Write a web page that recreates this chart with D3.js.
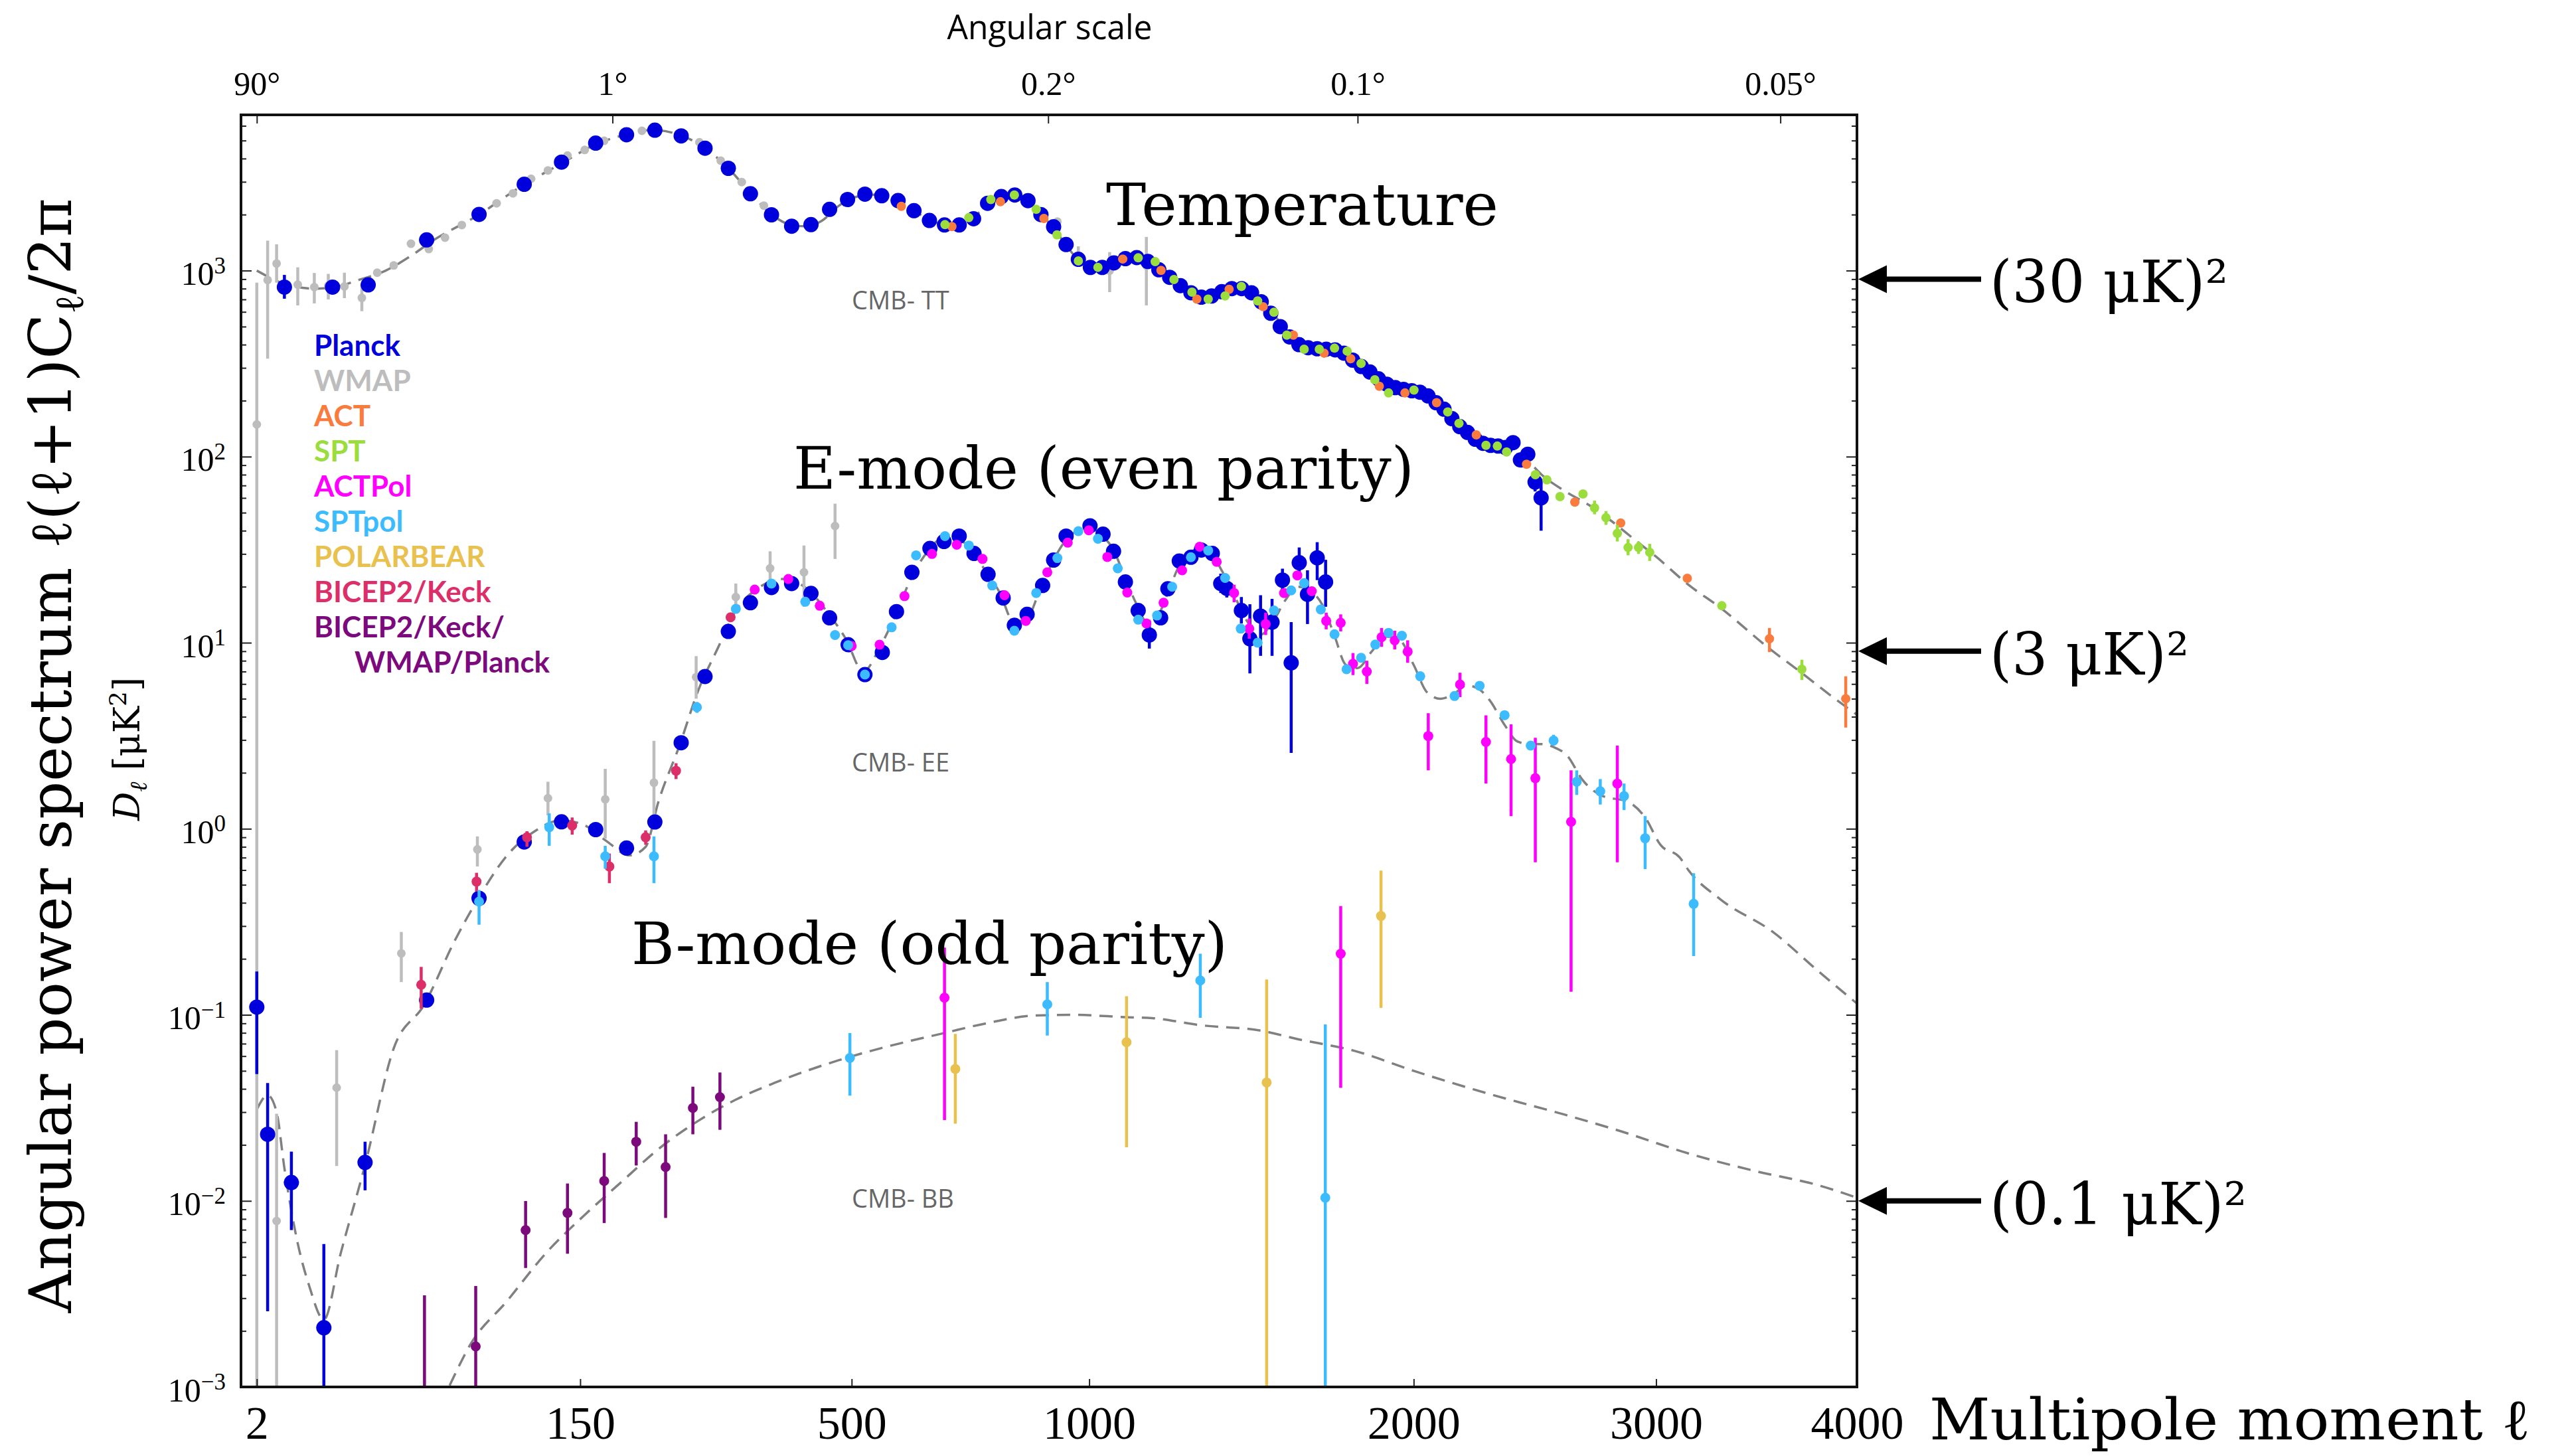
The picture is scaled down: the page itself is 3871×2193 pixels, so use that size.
<!DOCTYPE html>
<html>
<head>
<meta charset="utf-8">
<script src="https://cdn.jsdelivr.net/npm/d3@7"></script>
<style>
  body { margin: 0; background: #fff; }
</style>
</head>
<body>
<div id="chart"></div>
<script>
// ---- data: [ell, D_ell, low, high] (low/high only where an error bar shows) ----
var planckTT = [[5,815,706,948],[14,815,790,840],[24,838,815,860],[47,1462],[75,2005],[105,2911],[134,3828],[164,4842],[194,5370],[224,5686],[254,5297],[283,4550],[313,3546],[343,2588],[373,1995],[403,1733],[433,1766],[463,2133],[493,2410],[523,2576],[553,2525],[583,2380],[613,2100],[643,1860],[673,1760],[703,1760],[733,1900],[763,2300],[793,2500],[823,2550],[853,2376],[883,2000],[913,1720],[943,1380],[973,1150],[1003,1040],[1033,1040],[1063,1100],[1093,1160],[1123,1175],[1153,1120],[1183,1010],[1213,920],[1243,830],[1273,760],[1303,720],[1333,730],[1363,770],[1393,800],[1423,800],[1453,760],[1483,680],[1513,590],[1543,500],[1573,440],[1603,400],[1633,385],[1663,380],[1693,378],[1723,375],[1753,360],[1783,330],[1813,305],[1843,285],[1873,262],[1903,245],[1933,235],[1963,230],[1993,226],[2023,222],[2053,212],[2083,195],[2113,180],[2143,160],[2173,145],[2203,135],[2233,124],[2263,118],[2293,115],[2323,114],[2353,112],[2383,119,110,128],[2413,96,88,105],[2443,103,95,112],[2473,73,65,82],[2498,60,40,72]];
var wmapTT = [[2,149,1e-4,861],[3,890,336,1449],[4,1091,861,1384],[7,841,650,1041],[10,815,666,971],[13,830,700,960],[17,822,711,974],[22,714,605,841],[27,974],[33,1066],[40,1395],[48,1306],[56,1504],[65,1757],[86,2300],[97,2603],[110,3115],[123,3455],[139,4150],[154,4450],[172,4985],[210,5640],[276,4895],[303,3900],[331,2992],[362,2235],[922,1833],[973,1200,1100,1350],[1052,1000,766,1257],[1149,1066,650,1517]];
var actTT = [[589,2215],[688,1725],[791,2345],[890,1906],[1086,1154],[1189,1002],[1290,703],[1385,793],[1489,640],[1585,450],[1686,360],[1776,336],[1876,239],[1968,220],[2085,195],[2237,131],[2438,91],[2640,57],[2840,44],[3145,22.2],[3545,10.5,8.9,12],[3940,5.0,3.5,6.6]];
var sptTT = [[674,1766],[723,1925],[770,2410],[822,2548],[872,2133],[921,1556],[973,1127],[1022,1041],[1127,1171],[1173,1117],[1225,895],[1276,766],[1323,703],[1373,731],[1422,822],[1472,687],[1523,597],[1564,450],[1620,378],[1670,378],[1721,383],[1764,369],[1812,317],[1860,259],[1909,220],[2001,228],[2127,174],[2170,151],[2275,115],[2320,114],[2357,106],[2474,80],[2522,75],[2577,61],[2675,63],[2725,53,49,58],[2775,47,43,51],[2825,38.7,35,43],[2873,32.5,29.5,36],[2920,32.5,30,35],[2971,30.6,27.5,34],[3310,15.8],[3710,7.2,6.3,8.1]];

var planckEE = [[2,0.110,0.048,0.171],[3,0.0228,0.00255,0.043],[6,0.01256,0.00697,0.0184],[12,0.00208,1e-5,0.00586],[23,0.0161,0.0114,0.0208],[47,0.120,0.11,0.13],[75,0.423],[105,0.849],[134,1.09],[164,0.99],[194,0.788],[224,1.088],[254,2.90],[283,6.58],[313,11.5],[343,16.4],[373,19.8],[403,20.8],[433,18.4],[463,13.6],[494,9.75],[523,6.74],[554,8.87],[580,14.7],[609,23.9],[644,32.1],[672,35],[703,37.4],[734,30.2],[764,23.3],[797,17.4],[822,12.4],[851,14.2],[887,20.3],[913,27.8],[943,37.4],[1002,42.5],[1035,38.3],[1062,31.0],[1093,21.2],[1127,14.9],[1157,11.0,9.3,13.0],[1188,13.6],[1208,19.5],[1240,27.5],[1273,28.8],[1303,31.5],[1335,30.2],[1360,20.8,18.5,23.5],[1378,19.6,17.5,22],[1422,14.9,12.7,17.6],[1448,10.5,6.84,16.1],[1481,13.9,8.5,18.0],[1517,12.9,8.5,17.2],[1550,21.7,18.5,25],[1578,7.8,2.56,12.9],[1604,26.9,22.3,32.5],[1631,18.2,12.6,24.5],[1663,28.6,21.7,34.7],[1691,21.2,15.6,27.9]];
var wmapEE = [[4,0.0078,1e-5,0.0294],[15,0.0406,0.0154,0.0646],[36,0.214,0.150,0.279],[74,0.775,0.627,0.91],[123,1.46,1.18,1.79],[173,1.44,0.885,2.10],[223,1.77,1.11,2.97],[272,6.53,5.0,8.47],[323,17.6,14.9,20.8],[371,25.1,21.8,31],[422,23.9,15.6,33.3],[472,42.4,28.2,55.9]];
var bicepEE = [[44.5,0.145,0.108,0.181],[73.5,0.52,0.46,0.58],[107,0.90,0.80,0.97],[143,1.04,0.93,1.15],[177,0.627,0.51,0.736],[214,0.90,0.82,0.98],[248,2.05,1.85,2.25],[316,13.7]];
var sptpolEE = [[75,0.406,0.305,0.469],[124,1.02,0.81,1.21],[173,0.711,0.61,0.81],[223,0.711,0.51,0.91],[273,4.50,4.2,4.8],[323,15.2],[373,20.8],[424,16.6],[472,11.0],[494,9.7],[523,6.74],[571,12.1],[617,29.5],[674,37.4],[723,33.3],[773,20.3],[822,11.6],[872,18.5],[922,28.5],[973,39.8],[1022,36.2],[1073,25.1],[1127,13.3],[1178,14.0],[1220,20.0],[1273,28.8],[1323,31.3],[1373,22.3],[1420,11.9],[1472,10.0],[1523,14.9],[1578,19.1],[1620,20.9],[1675,15.1],[1721,11.1],[1762,7.2],[1812,8.3],[1862,9.77],[1909,11.3],[1957,10.9],[2024,6.6],[2153,5.17],[2250,5.87],[2349,4.08],[2455,2.80],[2550,2.98,2.8,3.2],[2648,1.79,1.52,2.06],[2750,1.59,1.35,1.85],[2855,1.50,1.26,1.75],[2950,0.889,0.607,1.17],[3175,0.395,0.207,0.577]];
var actpolEE = [[349,19.3],[398,22.0],[447,15.8],[500,9.6],[549,9.75],[595,17.8],[648,30],[698,33.6],[752,28.2],[800,18.0],[848,13.1],[898,23.9],[947,34.5],[999,40.2],[1046,28.9],[1098,18.6],[1149,12.7],[1196,16.4],[1248,24.5],[1298,32.8],[1348,27.2],[1400,18.5,16.5,20.5],[1446,11.9,10.5,13.5],[1497,12.6,11,14.5],[1555,18.5],[1598,23],[1645,18.9],[1693,13.1,11.8,14.5],[1742,12.8,11.5,14.2],[1784,7.7,6.7,8.8],[1832,7.0,6.0,8.0],[1884,10.7,9.5,12],[1931,10.3,9.2,11.6],[1978,8.96,7.8,10.3],[2054,3.15,2.06,4.18],[2174,5.96,5.1,6.9],[2275,2.93,1.75,4.07],[2375,2.37,1.17,3.64],[2474,1.87,0.66,3.08],[2624,1.09,0.133,2.06],[2825,1.75,0.66,2.80]];

var bkBB = [[46,1e-5,1e-6,0.00311],[73,0.00165,1e-5,0.00349],[106,0.00697,0.00436,0.00998],[139,0.00862,0.0052,0.0124],[172,0.0128,0.0076,0.0181],[204,0.0208,0.0155,0.0266],[236,0.0152,0.0081,0.0228],[268,0.0316,0.0228,0.0411],[302,0.0361,0.0241,0.049]];
var sptpolBB = [[497,0.0586,0.0368,0.0798],[898,0.1138,0.0774,0.150],[1300,0.153,0.0964,0.213],[1690,0.0104,1e-5,0.0887]];
var actpolBB = [[673,0.1236,0.0272,0.23],[1742,0.213,0.0405,0.384]];
var polarbearBB = [[695,0.0512,0.026,0.079],[1096,0.0713,0.0194,0.126],[1500,0.0433,1e-5,0.155],[1882,0.34,0.109,0.596]];

// theory curves (dashed)
var theoryTT = [[2,1000],[3,930],[4,880],[6,830],[10,800],[15,820],[21,890],[30,1000],[40,1200],[50,1450],[75,2000],[100,2750],[135,3800],[165,4800],[195,5400],[222,5700],[250,5400],[280,4650],[310,3650],[340,2700],[370,2050],[400,1770],[425,1730],[450,1850],[480,2250],[510,2500],[540,2560],[570,2490],[600,2250],[630,1960],[660,1800],[690,1760],[720,1840],[750,2100],[790,2420],[820,2520],[850,2400],[880,2050],[910,1720],[940,1400],[970,1160],[1000,1050],[1030,1030],[1070,1110],[1120,1180],[1160,1110],[1200,960],[1250,820],[1300,725],[1340,740],[1400,800],[1430,795],[1480,690],[1530,560],[1580,440],[1620,390],[1680,380],[1730,375],[1790,330],[1850,282],[1900,250],[1950,233],[2000,226],[2050,214],[2100,187],[2150,158],[2200,136],[2250,122],[2300,116],[2350,112],[2400,105],[2450,93],[2500,80],[2600,65],[2700,55],[2800,45],[2900,36],[3000,29],[3150,20.5],[3300,15.5],[3550,9.2],[3700,7.0],[3850,5.3],[4000,4.1]];
var theoryEE = [[2,0.031],[3,0.037],[4,0.03],[5,0.015],[7,0.0059],[9,0.0035],[12,0.0023],[16,0.0052],[23,0.0156],[33,0.066],[46,0.114],[61,0.249],[76,0.444],[93,0.72],[112,0.962],[133,1.11],[153,1.05],[174,0.86],[197,0.72],[214,0.80],[228,1.40],[252,2.80],[275,5.6],[299,9.3],[323,14.9],[351,19.3],[389,22],[424,19.8],[460,14.5],[490,10.5],[520,7.0],[550,9.5],[580,14.5],[610,23],[640,31],[670,36.5],[700,36],[730,31],[760,24],[790,18.5],[820,13.0],[850,13.5],[880,19],[910,27],[940,35],[970,40],[1000,41.5],[1030,38],[1060,32],[1090,23],[1120,16.5],[1150,13],[1180,14],[1210,19],[1240,26],[1270,30.5],[1300,32],[1330,30.5],[1360,25],[1400,18],[1440,13],[1480,11],[1520,13],[1560,17],[1600,20],[1640,19],[1680,16],[1720,11],[1760,7.6],[1800,7.3],[1850,9],[1900,10.8],[1950,10.3],[2000,7.6],[2050,5.4],[2100,5.0],[2150,5.3],[2200,5.9],[2250,5.6],[2290,4.9],[2350,3.6],[2400,2.95],[2450,2.85],[2500,2.85],[2550,2.75],[2610,2.45],[2670,1.85],[2760,1.5],[2870,1.4],[2950,1.15],[3020,0.82],[3110,0.70],[3150,0.6],[3300,0.42],[3560,0.28],[3800,0.17],[4000,0.115]];
var theoryBB = [[45,0.0005],[58,0.001],[70,0.0017],[93,0.0029],[121,0.0052],[153,0.0083],[190,0.0128],[228,0.019],[275,0.027],[323,0.035],[377,0.043],[478,0.057],[550,0.066],[674,0.080],[760,0.090],[866,0.099],[960,0.1],[1100,0.097],[1165,0.096],[1300,0.088],[1486,0.082],[1600,0.074],[1790,0.064],[2000,0.050],[2290,0.0375],[2600,0.029],[2835,0.0238],[3150,0.018],[3470,0.0145],[3800,0.0121],[4000,0.0104]];

// axes
var xTicks = [2, 150, 500, 1000, 2000, 3000, 4000];
var angleTicks = [2, 180, 900, 1800, 3600];
var angleLabels = ["90°", "1°", "0.2°", "0.1°", "0.05°"];
var yTicks = [1e-3, 1e-2, 1e-1, 1, 10, 100, 1000];

// legend
var legendNames = ["Planck", "WMAP", "ACT", "SPT", "ACTPol", "SPTpol", "POLARBEAR", "BICEP2/Keck", "BICEP2/Keck/", "WMAP/Planck"];
var legendColors = ["#0000dd", "#bdbdbd", "#f97b3d", "#9add3c", "#ff00ff", "#3cbcff", "#e8c14f", "#dc2f6a", "#7d0a7d", "#7d0a7d"];

// right-hand arrows
var arrowValues = [900, 9, 0.01];
var arrowLabels = ["(30 μK)²", "(3 μK)²", "(0.1 μK)²"];
var arrowLengths = [359, 300, 387];

var col = {planck: "#0000dd", wmap: "#bdbdbd", act: "#f97b3d", spt: "#9add3c",
           actpol: "#ff00ff", sptpol: "#3cbcff", polarbear: "#e8c14f",
           bicep: "#dc2f6a", bk: "#7d0a7d"};

var W = 3871, H = 2193;
var L = 363, R = 2797, T = 173, B = 2089;

var x = d3.scalePow().exponent(0.45).domain([2, 4000]).range([386.8, R]);
var y = d3.scaleLog().domain([1e-3, Math.pow(10, 3.837)]).range([B, T]);

var svg = d3.select("#chart").append("svg")
    .attr("width", W).attr("height", H);
svg.append("rect").attr("width", W).attr("height", H).attr("fill", "#fff");

svg.append("defs").append("clipPath").attr("id", "plotclip")
    .append("rect").attr("x", L).attr("y", T).attr("width", R - L).attr("height", B - T);

var plot = svg.append("g").attr("clip-path", "url(#plotclip)");

// dashed theory spectra
var line = d3.line().x(d => x(d[0])).y(d => y(d[1])).curve(d3.curveMonotoneX);
[theoryTT, theoryEE, theoryBB].forEach(function(t) {
    plot.append("path").attr("d", line(t))
        .attr("fill", "none").attr("stroke", "#808080")
        .attr("stroke-width", 3.5).attr("stroke-dasharray", "20,12");
});

function drawPoints(data, color, r) {
    var g = plot.append("g");
    g.selectAll("line").data(data.filter(d => d.length > 2)).join("line")
        .attr("x1", d => x(d[0])).attr("x2", d => x(d[0]))
        .attr("y1", d => y(d[2])).attr("y2", d => y(d[3]))
        .attr("stroke", color).attr("stroke-width", 4.5);
    g.selectAll("circle").data(data).join("circle")
        .attr("cx", d => x(d[0])).attr("cy", d => y(d[1]))
        .attr("r", r).attr("fill", color);
}

drawPoints(wmapTT, col.wmap, 6.5);
drawPoints(wmapEE, col.wmap, 6.5);
drawPoints(planckTT, col.planck, 11.5);
drawPoints(planckEE, col.planck, 11.5);
drawPoints(bicepEE, col.bicep, 7.5);
drawPoints(actTT, col.act, 7);
drawPoints(sptTT, col.spt, 7);
drawPoints(actpolEE, col.actpol, 7.5);
drawPoints(sptpolEE, col.sptpol, 7.5);
drawPoints(polarbearBB, col.polarbear, 7.5);
drawPoints(actpolBB, col.actpol, 7.5);
drawPoints(sptpolBB, col.sptpol, 7.5);
drawPoints(bkBB, col.bk, 7.5);

// ---- axes ----
var tickFont = "'Liberation Serif', serif";

var gBottom = svg.append("g").attr("transform", "translate(0," + B + ")")
    .call(d3.axisBottom(x).tickValues(xTicks).tickSize(-12).tickPadding(28).tickFormat(d3.format("d")));
gBottom.selectAll("text").attr("font-size", 70).attr("font-family", tickFont).attr("fill", "#000");

var gTop = svg.append("g").attr("transform", "translate(0," + T + ")")
    .call(d3.axisTop(x).tickValues(angleTicks).tickSize(-13).tickPadding(30).tickFormat((d, i) => angleLabels[i]));
gTop.selectAll("text").attr("font-size", 50).attr("font-family", tickFont).attr("fill", "#000");

var yMinor = [];
for (var e = -3; e <= 3; e++) {
    for (var k = 2; k <= 9; k++) {
        var v = k * Math.pow(10, e);
        if (v < y.domain()[1]) yMinor.push(v);
    }
}

var gLeft = svg.append("g").attr("transform", "translate(" + L + ",0)")
    .call(d3.axisLeft(y).tickValues(yTicks).tickSize(-16).tickPadding(23).tickFormat(""));
gLeft.selectAll(".tick text").each(function(d) {
    var ex = Math.round(Math.log10(d));
    var t = d3.select(this).attr("font-size", 50).attr("font-family", tickFont)
        .attr("fill", "#000").attr("dy", "0.42em");
    t.append("tspan").text("10");
    t.append("tspan").attr("dy", "-0.5em").attr("font-size", 35)
        .text(String(ex).replace("-", "−"));
});
svg.append("g").attr("transform", "translate(" + L + ",0)")
    .call(d3.axisLeft(y).tickValues(yMinor).tickSize(-8).tickFormat(""));
svg.append("g").attr("transform", "translate(" + R + ",0)")
    .call(d3.axisRight(y).tickValues(yTicks).tickSize(-16).tickFormat(""));
svg.append("g").attr("transform", "translate(" + R + ",0)")
    .call(d3.axisRight(y).tickValues(yMinor).tickSize(-8).tickFormat(""));

svg.selectAll(".domain").remove();
svg.selectAll(".tick line").attr("stroke", "#222").attr("stroke-width", 2);

// frame
svg.append("rect").attr("x", L).attr("y", T).attr("width", R - L).attr("height", B - T)
    .attr("fill", "none").attr("stroke", "#111").attr("stroke-width", 4);

// ---- labels ----
var bigFont = "'DejaVu Serif', serif";

svg.append("text").attr("x", 1581).attr("y", 59).attr("text-anchor", "middle")
    .attr("font-family", "'Open Sans', sans-serif").attr("font-size", 52)
    .attr("textLength", 309).attr("lengthAdjust", "spacingAndGlyphs")
    .text("Angular scale");

svg.append("text").attr("x", 2906).attr("y", 2168)
    .attr("font-family", bigFont).attr("font-size", 86)
    .attr("textLength", 905).attr("lengthAdjust", "spacingAndGlyphs")
    .text("Multipole moment ℓ");

var yl = svg.append("text").attr("transform", "translate(107,1138) rotate(-90)")
    .attr("text-anchor", "middle").attr("font-family", bigFont).attr("font-size", 88)
    .attr("textLength", 1679).attr("lengthAdjust", "spacingAndGlyphs");
yl.append("tspan").text("Angular power spectrum ℓ(ℓ+1)C");
yl.append("tspan").attr("dy", 18).attr("font-size", 60).text("ℓ");
yl.append("tspan").attr("dy", -18).text("/2π");

var dl = svg.append("text").attr("transform", "translate(210,1128) rotate(-90)")
    .attr("text-anchor", "middle").attr("font-family", bigFont).attr("font-size", 54);
dl.append("tspan").attr("font-style", "italic").text("D");
dl.append("tspan").attr("dy", 11).attr("font-size", 36).attr("font-style", "italic").text("ℓ");
dl.append("tspan").attr("dy", -11).text(" [μK");
dl.append("tspan").attr("dy", -20).attr("font-size", 36).text("2");
dl.append("tspan").attr("dy", 20).text("]");

var spectra = [
    {text: "Temperature", x: 1666, y: 339, w: 591},
    {text: "E-mode (even parity)", x: 1195, y: 736, w: 935},
    {text: "B-mode (odd parity)", x: 951, y: 1452, w: 898}
];
spectra.forEach(function(s) {
    svg.append("text").attr("x", s.x).attr("y", s.y)
        .attr("font-family", bigFont).attr("font-size", 88)
        .attr("textLength", s.w).attr("lengthAdjust", "spacingAndGlyphs")
        .text(s.text);
});

var cmbLabels = [["CMB- TT", 466], ["CMB- EE", 1162], ["CMB- BB", 1819]];
cmbLabels.forEach(function(c) {
    svg.append("text").attr("x", 1283).attr("y", c[1])
        .attr("font-family", "'Open Sans', sans-serif").attr("font-size", 38)
        .attr("fill", "#666").text(c[0]);
});

// legend
legendNames.forEach(function(n, i) {
    svg.append("text").attr("x", i === 9 ? 534 : 473).attr("y", 536 + 53 * i)
        .attr("font-family", "Lato, sans-serif").attr("font-weight", "bold")
        .attr("font-size", 44).attr("fill", legendColors[i]).text(n);
});

// arrows on the right
arrowValues.forEach(function(v, i) {
    var yy = y(v);
    svg.append("line").attr("x1", 2836).attr("x2", 2984).attr("y1", yy).attr("y2", yy)
        .attr("stroke", "#000").attr("stroke-width", 8);
    svg.append("path")
        .attr("d", "M" + (R + 2) + "," + yy + "L2842," + (yy - 21) + "L2842," + (yy + 21) + "Z")
        .attr("fill", "#000");
    svg.append("text").attr("x", 2997).attr("y", yy + 35)
        .attr("font-family", bigFont).attr("font-size", 88)
        .attr("textLength", arrowLengths[i]).attr("lengthAdjust", "spacingAndGlyphs")
        .text(arrowLabels[i]);
});
</script>
</body>
</html>
